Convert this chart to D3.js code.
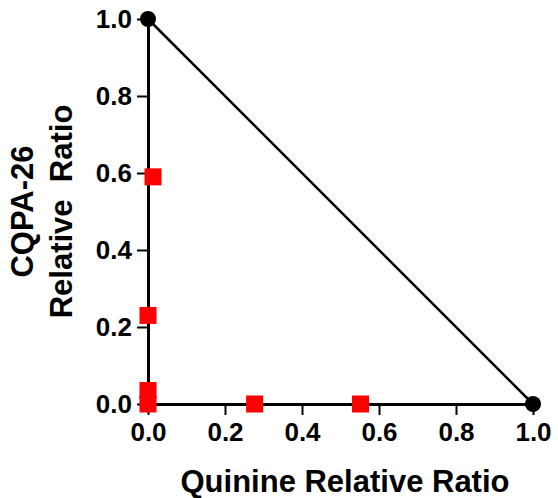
<!doctype html>
<html>
  <head>
    <meta charset="utf-8">
    <title>Isobologram</title>
    <script src="https://cdn.jsdelivr.net/npm/d3@7"></script>
    <style>
      body { margin: 0; background: #fff; }
      text { font-family: "Liberation Sans", Arial, sans-serif; font-weight: bold; }
    </style>
  </head>
  <body>
    <script>
      // data
      const quinine = [0.013, 0, 0, 0, 0.277, 0.552];
      const cqpa = [0.59, 0.23, 0.035, 0, 0, 0];
      const additiveX = [0, 1];
      const additiveY = [1, 0];
      const tickValues = [0, 0.2, 0.4, 0.6, 0.8, 1.0];

      const svgWidth = 558;
      const svgHeight = 498;
      const margin = { left: 148, top: 19, right: 25, bottom: 94 };

      const svg = d3.select('body').append('svg')
          .attr('width', svgWidth)
          .attr('height', svgHeight);

      const x = d3.scaleLinear().domain([0, 1]).range([margin.left, svgWidth - margin.right]);
      const y = d3.scaleLinear().domain([0, 1]).range([svgHeight - margin.bottom, margin.top]);

      // axes
      const xAxis = svg.append('g')
          .attr('transform', `translate(0,${y(0)})`)
          .call(d3.axisBottom(x).tickValues(tickValues).tickFormat(d3.format('.1f'))
            .tickSize(11).tickSizeOuter(0).tickPadding(8));
      const yAxis = svg.append('g')
          .attr('transform', `translate(${x(0)},0)`)
          .call(d3.axisLeft(y).tickValues(tickValues).tickFormat(d3.format('.1f'))
            .tickSize(11).tickSizeOuter(0).tickPadding(5));

      [xAxis, yAxis].forEach(g => {
        g.select('.domain').attr('stroke', '#000').attr('stroke-width', 3);
        g.selectAll('.tick line').attr('stroke', '#000').attr('stroke-width', 2);
        g.selectAll('.tick text').attr('font-size', 26).attr('fill', '#000')
          .attr('font-family', '"Liberation Sans", Arial, sans-serif').attr('font-weight', 'bold');
      });

      // line of additivity
      const line = d3.line().x(d => x(d[0])).y(d => y(d[1]));
      const pts = additiveX.map((v, i) => [v, additiveY[i]]);
      svg.append('path')
          .attr('d', line(pts))
          .attr('fill', 'none')
          .attr('stroke', '#000')
          .attr('stroke-width', 2.5);

      svg.selectAll('circle.end')
        .data(pts)
        .enter().append('circle')
          .attr('class', 'end')
          .attr('cx', d => x(d[0]))
          .attr('cy', d => y(d[1]))
          .attr('r', 8)
          .attr('fill', '#000');

      // FIC points
      const s = 17;
      svg.selectAll('rect.pt')
        .data(quinine.map((v, i) => [v, cqpa[i]]))
        .enter().append('rect')
          .attr('class', 'pt')
          .attr('x', d => x(d[0]) - s / 2)
          .attr('y', d => y(d[1]) - s / 2)
          .attr('width', s)
          .attr('height', s)
          .attr('fill', '#ff0000');

      // titles
      svg.append('text')
          .attr('x', 345)
          .attr('y', 492)
          .attr('text-anchor', 'middle')
          .attr('font-size', 31)
          .text('Quinine Relative Ratio');

      const yt = svg.append('text')
          .attr('transform', `translate(33,${(y(0) + y(1)) / 2}) rotate(-90)`)
          .attr('text-anchor', 'middle')
          .attr('font-size', 31);
      yt.append('tspan').attr('x', 0).attr('dy', 0).text('CQPA-26');
      yt.append('tspan').attr('x', 0).attr('dy', 39).attr('xml:space', 'preserve').style('white-space', 'pre').text('Relative  Ratio');
    </script>
  </body>
</html>
